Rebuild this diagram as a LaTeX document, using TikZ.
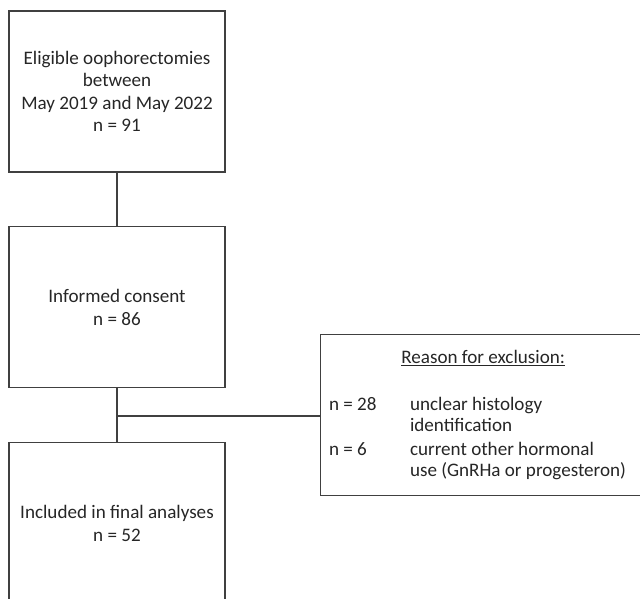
\documentclass[tikz,border=0pt]{standalone}
\usepackage{fontspec}
\setmainfont{Carlito}
\begin{document}
\begin{tikzpicture}[x=1pt,y=-1pt,
  every node/.style={inner sep=0pt, outer sep=0pt, text=black!85},
  box/.style={draw=black!75, line width=1.2pt, rectangle, anchor=north west},
  lbox/.style={box, minimum width=216pt, minimum height=161pt},
  txt/.style={font=\fontsize{19.1}{22.5}\selectfont, align=center},
  conn/.style={draw=black!75, line width=1.2pt}
]
\useasboundingbox (0,0) rectangle (640,599);
\clip (0,0) rectangle (640,599);
\node[lbox] (b1) at (9,11) {};
\node[lbox] (b2) at (9,226.7) {};
\node[lbox] (b3) at (9,442.7) {};
\node[box, minimum width=325pt, minimum height=161.4pt] (ex) at (320.7,334.3) {};
\node[txt] (t1) at (b1.center) {Eligible oophorectomies\\between\\May 2019 and May 2022\\n = 91};
\node[txt] (t2) at (b2.center) {Informed consent\\n = 86};
\node[txt] (t3) at (b3.center) {Included in final analyses\\n = 52};
\node[txt, anchor=base] (ext) at (483.2,363.3) {\underline{Reason for exclusion:}};
\node[txt, anchor=base west] (n28) at (329,410) {n = 28};
\node[txt, anchor=base west] (r1a) at (410,410) {unclear histology};
\node[txt, anchor=base west] (r1b) at (410,431.7) {identification};
\node[txt, anchor=base west] (n6) at (329,455) {n = 6};
\node[txt, anchor=base west] (r2a) at (410,455) {current other hormonal};
\node[txt, anchor=base west] (r2b) at (410,476) {use (GnRHa or progesteron)};
\coordinate (j) at (b2.south |- 0,416);
\draw[conn] (b1.south) -- (b2.north);
\draw[conn] (b2.south) -- (b3.north);
\draw[conn] (j) -- (j -| ex.west);
\end{tikzpicture}
\end{document}
